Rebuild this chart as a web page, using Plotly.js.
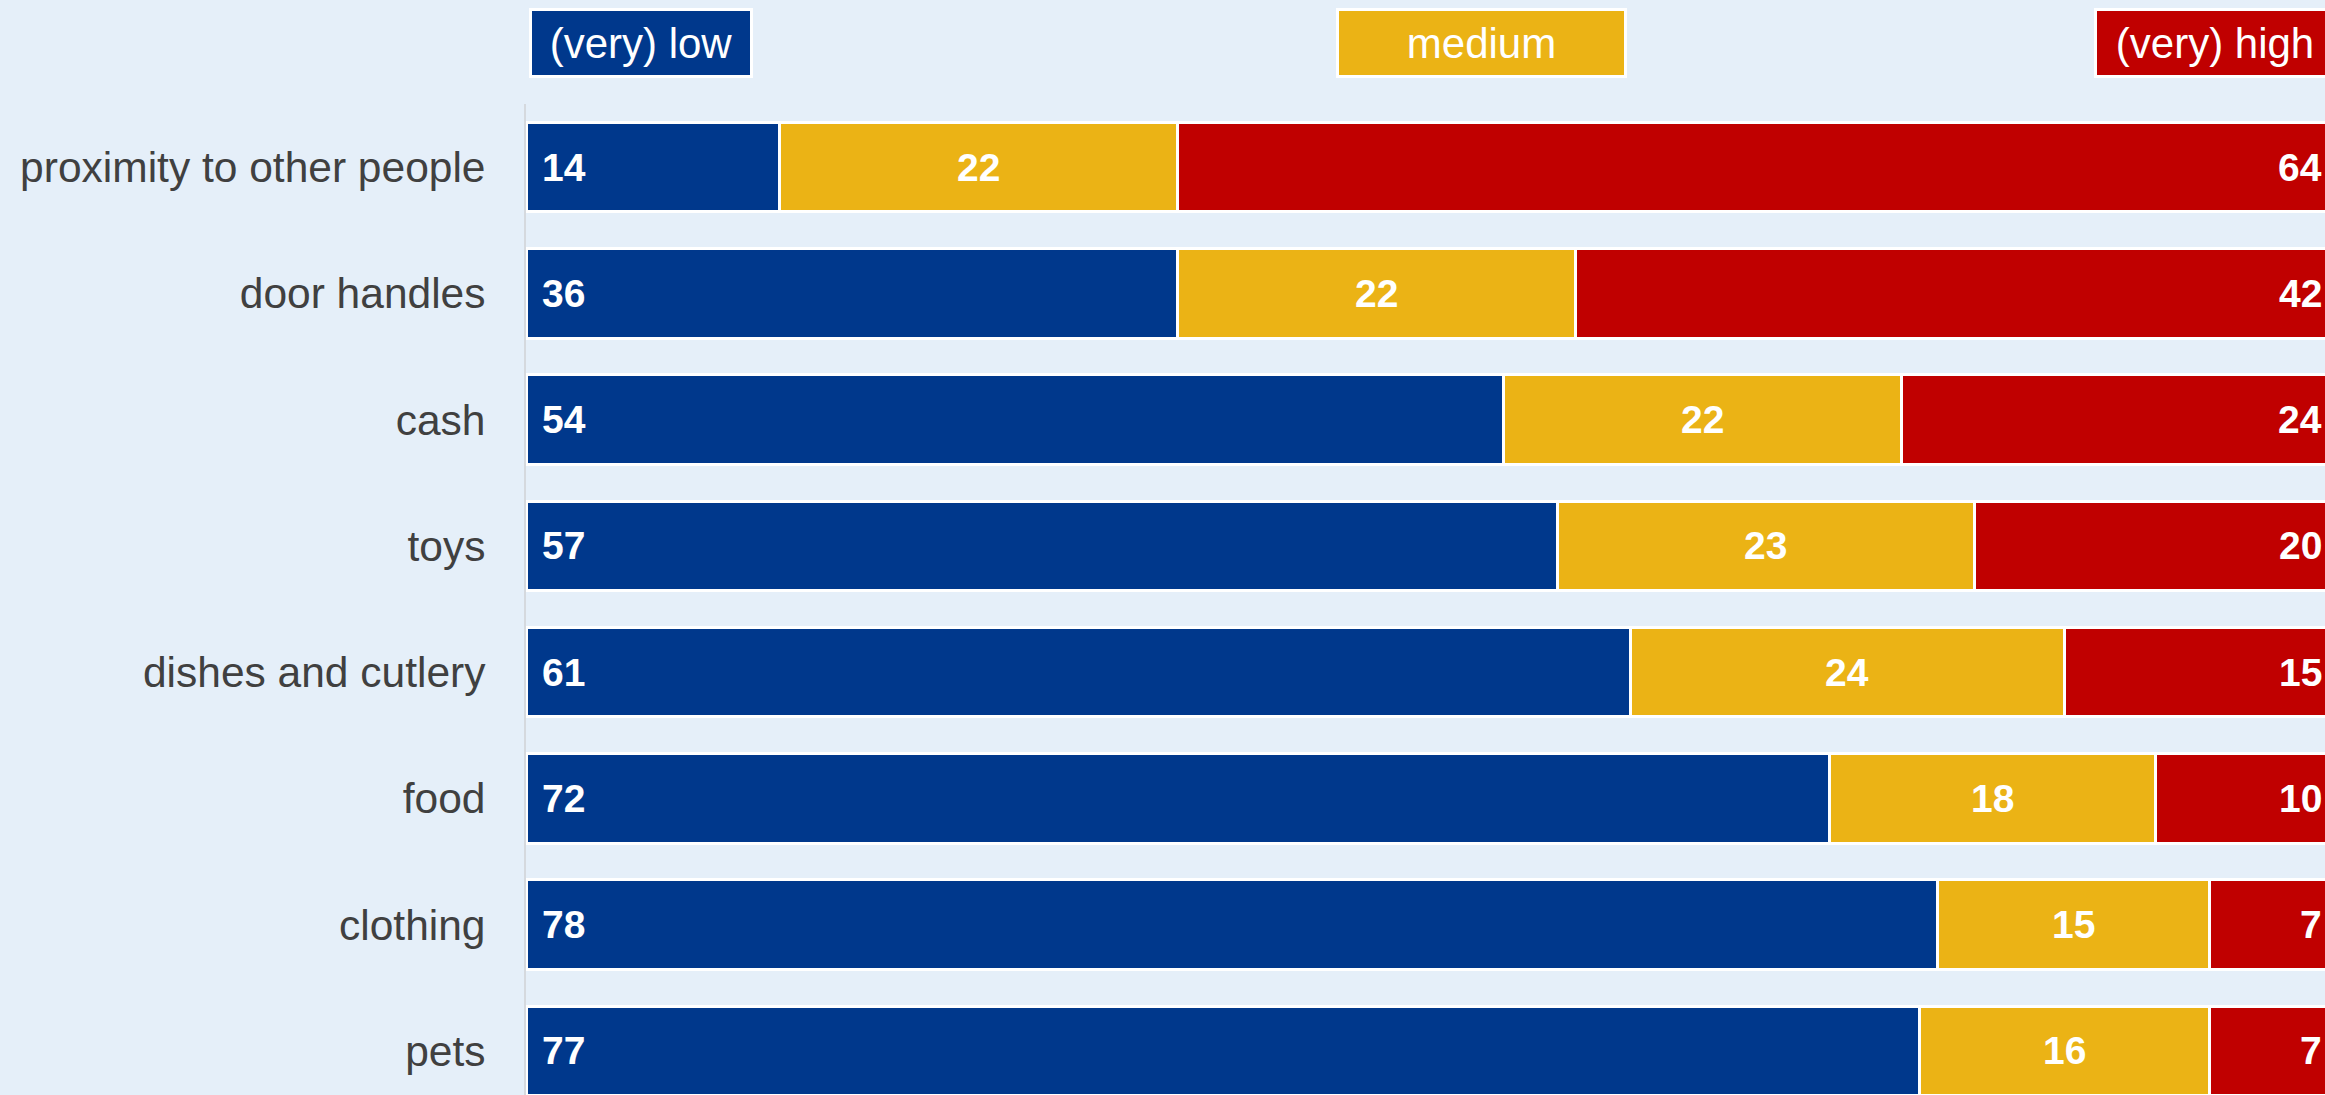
<!DOCTYPE html>
<html>
<head>
<meta charset="utf-8">
<script src="https://cdn.plot.ly/plotly-3.0.1.min.js"></script>
<style>
html,body{margin:0;padding:0;overflow:hidden;background:#E5EFF9;}
#chart{width:2336px;height:1114px;}
</style>
</head>
<body>
<div id="chart"></div>
<script>
const categories = ["proximity to other people","door handles","cash","toys","dishes and cutlery","food","clothing","pets"];
const lowValues = [14,36,54,57,61,72,78,77];
const mediumValues = [22,22,22,23,24,18,15,16];
const highValues = [64,42,24,20,15,10,7,7];
const seriesNames = ["(very) low","medium","(very) high"];
const colors = ["#00388C","#EBB315","#C00000"];

const traces = [lowValues, mediumValues, highValues].map((vals, i) => ({
  type: "bar",
  orientation: "h",
  name: seriesNames[i],
  y: categories,
  x: vals,
  marker: {color: colors[i], line: {color: "#FFFFFF", width: 3}},
  hoverinfo: "skip"
}));

const labelFont = {family: "Liberation Sans, Arial, sans-serif", size: 39, color: "#FFFFFF", weight: "bold"};
const annotations = [];
categories.forEach((c, k) => {
  annotations.push({x: 0, y: c, xref: "x", yref: "y", text: "<b>" + lowValues[k] + "</b>", showarrow: false, xanchor: "left", xshift: 14, font: labelFont});
  annotations.push({x: lowValues[k] + mediumValues[k] / 2, y: c, xref: "x", yref: "y", text: "<b>" + mediumValues[k] + "</b>", showarrow: false, xanchor: "center", font: labelFont});
  annotations.push({x: lowValues[k] + mediumValues[k] + highValues[k], y: c, xref: "x", yref: "y", text: "<b>" + highValues[k] + "</b>", showarrow: false, xanchor: "right", xshift: -12, font: labelFont});
});

const legendFont = {family: "Liberation Sans, Arial, sans-serif", size: 42, color: "#FFFFFF"};
const legendPos = [{x: 0.0015, xanchor: "left", w: 218}, {x: 0.528, xanchor: "center", w: 285}, {x: 1, xanchor: "right", w: 236}];
seriesNames.forEach((n, i) => {
  annotations.push({
    xref: "paper", yref: "paper", x: legendPos[i].x, y: 1.0605, xanchor: legendPos[i].xanchor, yanchor: "middle",
    text: n, showarrow: false, font: legendFont, bgcolor: colors[i], bordercolor: "#FFFFFF", borderwidth: 3, borderpad: 0,
    width: legendPos[i].w, height: 64
  });
});

const layout = {
  width: 2336, height: 1114,
  margin: {l: 526, r: 0, t: 104, b: 0, pad: 0},
  paper_bgcolor: "#E5EFF9",
  plot_bgcolor: "#E5EFF9",
  barmode: "stack",
  bargap: 0.29,
  showlegend: false,
  xaxis: {range: [0, 100], visible: false, fixedrange: true},
  yaxis: {
    type: "category", autorange: "reversed",
    showline: true, linecolor: "#D5D9DE", linewidth: 2,
    showgrid: false, zeroline: false, ticks: "",
    ticklabelstandoff: 30,
    tickfont: {family: "Liberation Sans, Arial, sans-serif", size: 42.5, color: "#404040"}
  },
  annotations: annotations,
  font: {family: "Liberation Sans, Arial, sans-serif"}
};

Plotly.newPlot("chart", traces, layout, {staticPlot: true, displayModeBar: false});
</script>
</body>
</html>
